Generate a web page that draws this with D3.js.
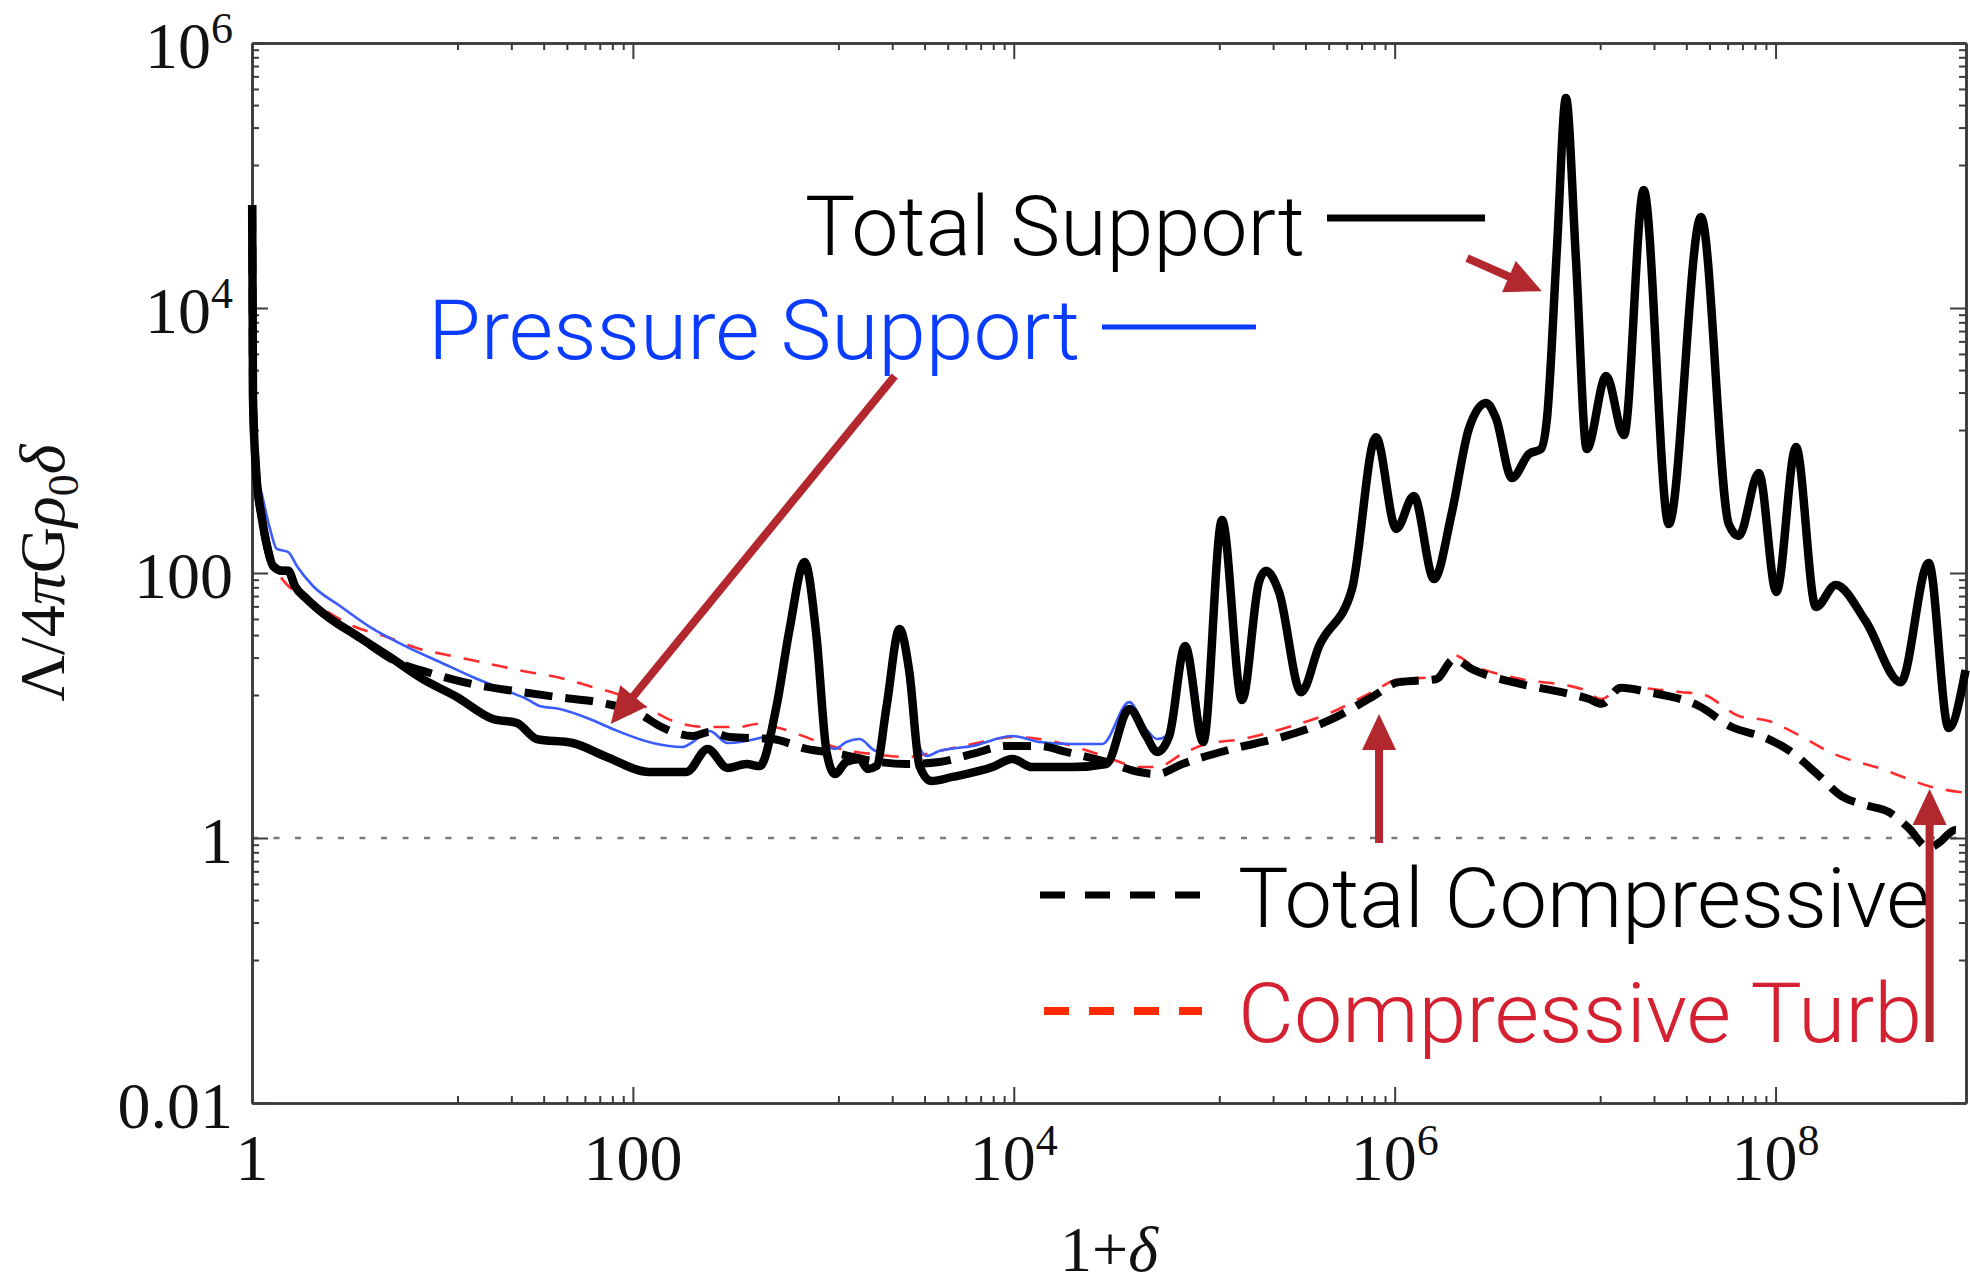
<!DOCTYPE html>
<html lang="en">
<head>
<meta charset="UTF-8">
<title>Support against density</title>
<script src="https://cdn.jsdelivr.net/npm/d3@7"></script>
<style>
  body { margin: 0; background: #fff; }
  svg { display: block; }
  .tick-label { font-family: "Liberation Serif", "Times New Roman", serif; font-size: 66px; fill: #111; }
  .axis-title { font-family: "Liberation Serif", "Times New Roman", serif; font-size: 64px; fill: #111; }
  .legend { font-family: Roboto, "Liberation Sans", sans-serif; font-weight: 300; font-size: 84px; }
</style>
</head>
<body>
<svg width="1970" height="1287"></svg>
<script>
// === values: [1+delta, Lambda/4piG rho0 delta] ===
const totalSupport = [
  [1.002, 6.0e4], [1.0072, 1.17e4], [1.012, 2060], [1.049, 610], [1.128, 256], [1.199, 160],
  [1.29, 113], [1.44, 104], [1.55, 104], [1.68, 79.8], [1.94, 63.7], [2.47, 47.3], [3.56, 33.5],
  [5.30, 23.2], [7.89, 15.8], [11.9, 11.6], [18.4, 7.91], [24.6, 7.38], [31.3, 5.58], [48.3, 5.21],
  [72.9, 4.09], [122, 3.15], [191, 3.15], [247, 4.70], [314, 3.38], [395, 3.62], [463, 3.49],
  [568, 9.91], [665, 37.8], [797, 121], [920, 33.5], [1040, 4.46], [1150, 3.04], [1320, 3.75],
  [1550, 3.95], [1710, 3.32], [1900, 3.49], [2150, 9.91], [2510, 37.8], [2830, 17.9], [3200, 3.49],
  [3700, 2.69], [4760, 2.89], [7730, 3.43], [9840, 3.95], [1.25e4, 3.43], [2.03e4, 3.43],
  [3.06e4, 3.62], [4.04e4, 9.41], [4.96e4, 5.89], [5.66e4, 4.46], [6.55e4, 5.89], [7.94e4, 28.1],
  [9.88e4, 5.30], [1.24e5, 251], [1.58e5, 11.0], [1.94e5, 85.5], [2.11e5, 104], [2.47e5, 71.9],
  [3.23e5, 12.6], [4.01e5, 28.1], [5.97e5, 75.7], [7.98e5, 1060], [1.02e6, 215], [1.26e6, 381],
  [1.61e6, 90.1], [2.00e6, 289], [2.45e6, 1220], [3.02e6, 1920], [3.40e6, 1480], [4.13e6, 521],
  [5.07e6, 791], [5.86e6, 863], [6.31e6, 1480], [7.11e6, 2.79e4], [7.93e6, 3.85e5], [8.95e6, 2.34e4],
  [1.02e7, 863], [1.29e7, 3070], [1.60e7, 1100], [2.03e7, 7.78e4], [2.75e7, 234], [4.06e7, 4.86e4],
  [5.68e7, 234], [6.41e7, 190], [8.17e7, 569], [1.01e8, 71.9], [1.28e8, 893], [1.63e8, 55.4],
  [2.07e8, 81.2], [2.97e8, 43.4], [4.54e8, 15.0], [6.37e8, 119], [8.11e8, 6.76], [9.95e8, 18.5]
];

const pressureSupport = [
  [1.002, 6.0e4], [1.0072, 1.17e4], [1.012, 2060], [1.062, 610], [1.142, 362], [1.243, 215],
  [1.35, 152], [1.55, 144], [1.72, 113], [2.09, 79.8], [2.90, 56.4], [4.32, 37.8], [6.50, 27.7],
  [9.69, 21.3], [14.4, 16.4], [21.8, 12.9], [27.7, 11.2], [32.4, 9.91], [41.3, 9.41], [59.3, 7.91],
  [78.3, 6.65], [127, 5.21], [182, 4.86], [206, 5.30], [253, 6.42], [314, 5.21], [463, 5.69],
  [504, 5.89], [568, 11.2], [665, 37.8], [797, 121], [920, 33.5], [1040, 4.95], [1150, 4.70],
  [1320, 5.30], [1550, 5.58], [1900, 4.54], [2150, 9.91], [2510, 39.8], [2940, 7.91], [3480, 4.16],
  [4070, 4.54], [6070, 4.95], [9840, 5.89], [1.36e4, 5.30], [2.03e4, 5.12], [2.92e4, 5.12],
  [4.04e4, 10.6], [4.96e4, 6.65], [5.66e4, 5.58], [6.32e4, 5.89], [7.94e4, 28.1], [9.88e4, 5.30]
];

const totalCompressive = [
  [1.002, 6.0e4], [1.0072, 1.17e4], [1.012, 2060], [1.049, 610], [1.128, 256], [1.199, 160],
  [1.29, 113], [1.44, 104], [1.55, 104], [1.68, 79.8], [1.94, 63.7], [2.47, 47.3], [3.56, 33.5],
  [5.77, 21.3], [8.28, 17.9], [14.4, 14.5], [26.4, 12.6], [39.8, 11.6], [72.9, 10.3], [109, 8.63],
  [138, 7.00], [176, 6.10], [206, 5.89], [253, 6.31], [322, 5.78], [541, 5.58], [816, 4.70],
  [1220, 4.31], [1810, 3.81], [2730, 3.62], [4070, 3.75], [6070, 4.31], [9140, 4.95], [1.36e4, 4.95],
  [1.89e4, 4.46], [3.06e4, 3.75], [4.56e4, 3.15], [5.66e4, 3.04], [7.67e4, 3.62], [1.40e5, 4.70],
  [2.56e5, 5.78], [4.70e5, 7.91], [7.61e5, 11.6], [1.05e6, 15.0], [1.65e6, 15.8], [2.05e6, 22.4],
  [2.55e6, 18.8], [4.34e6, 14.8], [7.93e6, 12.4], [1.05e7, 11.2], [1.22e7, 10.3], [1.54e7, 13.6],
  [2.16e7, 12.6], [3.96e7, 9.91], [5.89e7, 6.88], [8.89e7, 5.69], [1.17e8, 4.61], [1.63e8, 3.10],
  [2.22e8, 2.07], [2.97e8, 1.77], [3.93e8, 1.57], [5.00e8, 1.19], [6.37e8, 0.841], [7.18e8, 0.917],
  [8.81e8, 1.15], [9.95e8, 1.07]
];

const compressiveTurb = [
  [1.002, 6.0e4], [1.0072, 1.17e4], [1.012, 2060], [1.049, 610], [1.128, 256], [1.199, 160],
  [1.29, 113], [1.40, 94.9], [2.36, 53.5], [3.39, 39.8], [5.11, 32.9], [7.61, 26.7], [11.3, 23.6],
  [17.7, 20.6], [26.4, 18.2], [39.8, 16.4], [59.3, 14.0], [88.4, 11.8], [122, 9.41], [162, 7.64],
  [244, 6.88], [363, 6.88], [446, 7.25], [611, 6.65], [920, 5.40], [1370, 4.54], [1810, 4.31],
  [2730, 4.09], [4070, 4.54], [6070, 5.12], [9840, 5.78], [1.36e4, 5.58], [2.03e4, 4.95],
  [3.06e4, 4.09], [4.56e4, 3.43], [5.66e4, 3.43], [7.67e4, 4.31], [1.02e5, 5.12], [1.58e5, 5.58],
  [2.56e5, 6.65], [4.70e5, 8.93], [7.61e5, 12.6], [1.05e6, 15.8], [1.65e6, 16.4], [2.05e6, 24.0],
  [2.55e6, 20.2], [4.34e6, 16.1], [9.62e6, 13.3], [1.22e7, 11.2], [1.56e7, 13.8], [3.22e7, 12.6],
  [4.10e7, 12.2], [6.41e7, 8.34], [9.20e7, 7.64], [1.32e8, 5.99], [1.97e8, 4.38], [3.61e8, 3.32],
  [6.61e8, 2.43], [9.95e8, 2.19]
];

// ticks: labelled majors every two decades
const xTickValues = [1, 100, 1e4, 1e6, 1e8];
const xTickLabels = [["1"], ["100"], ["10", "4"], ["10", "6"], ["10", "8"]];
const yTickValues = [0.01, 1, 100, 1e4, 1e6];
const yTickLabels = [["0.01"], ["1"], ["100"], ["10", "4"], ["10", "6"]];

// legend texts
const legendLabels = ["Total Support", "Pressure Support", "Total Compressive", "Compressive Turb"];

// red annotation arrows, [from, to] in data units
const arrows = [
  [[2.40e6, 2.38e4], [5.93e6, 1.34e4]],
  [[2370, 3070], [76.5, 7.25]],
  [[8.28e5, 0.917], [8.28e5, 8.63]],
  [[6.44e8, 0.0289], [6.44e8, 2.34]]
];

// === scales ===
const plot = { left: 252, right: 1966, top: 43, bottom: 1103 };
const x = d3.scaleLog().domain([1, 1e9]).range([plot.left, plot.right]);
const y = d3.scaleLog().domain([0.01, 1e6]).range([plot.bottom, plot.top]);
const svg = d3.select("svg");

// minor ticks sit linearly between two majors (a + k(b-a)/9)
function minorTicks(majors, max) {
  const out = [];
  for (let i = 0; i < majors.length; i++) {
    const a = majors[i], b = majors[i + 1] || majors[i] * 100;
    for (let k = 1; k <= 8; k++) {
      const v = a + k * (b - a) / 9;
      if (v < max) out.push(v);
    }
  }
  return out;
}
const xMinor = minorTicks(xTickValues, 1e9);
const yMinor = minorTicks(yTickValues, 1e6);

// reference line at 1
svg.append("line")
  .attr("x1", plot.left).attr("x2", plot.right)
  .attr("y1", y(1)).attr("y2", y(1))
  .attr("stroke", "#7a7a7a").attr("stroke-width", 2.5)
  .attr("stroke-dasharray", "6,15.5");

// === frame with inward ticks on all four sides ===
function drawAxis(axisFn, scale, translate, majors, minors) {
  const gMinor = svg.append("g").attr("transform", translate)
    .call(axisFn(scale).tickValues(minors).tickSizeInner(-7).tickSizeOuter(0).tickFormat(""));
  const gMajor = svg.append("g").attr("transform", translate)
    .call(axisFn(scale).tickValues(majors).tickSizeInner(-16).tickSizeOuter(0).tickFormat(""));
  [gMinor, gMajor].forEach(g => {
    g.select(".domain").attr("stroke", "#3c3c3c").attr("stroke-width", 2.6);
    g.selectAll(".tick line").attr("stroke", "#3c3c3c").attr("stroke-width", 2);
  });
}
drawAxis(d3.axisBottom, x, `translate(0,${plot.bottom})`, xTickValues, xMinor);
drawAxis(d3.axisTop, x, `translate(0,${plot.top})`, xTickValues, xMinor);
drawAxis(d3.axisLeft, y, `translate(${plot.left},0)`, yTickValues, yMinor);
drawAxis(d3.axisRight, y, `translate(${plot.right},0)`, yTickValues, yMinor);

function addLabel(sel, parts) {
  sel.append("tspan").text(parts[0]);
  if (parts[1]) sel.append("tspan").attr("font-size", 44).attr("dy", -25).text(parts[1]);
}
xTickValues.forEach((v, i) => {
  const t = svg.append("text").attr("class", "tick-label")
    .attr("x", x(v)).attr("y", 1180).attr("text-anchor", "middle");
  addLabel(t, xTickLabels[i]);
});
yTickValues.forEach((v, i) => {
  const t = svg.append("text").attr("class", "tick-label")
    .attr("x", 233).attr("y", y(v) + 25).attr("text-anchor", "end");
  addLabel(t, yTickLabels[i]);
});

// axis titles
const xt = svg.append("text").attr("class", "axis-title")
  .attr("x", (plot.left + plot.right) / 2).attr("y", 1271).attr("font-size", 62)
  .attr("text-anchor", "middle");
xt.append("tspan").text("1+");
xt.append("tspan").attr("font-style", "italic").text("δ");

const yt = svg.append("text").attr("class", "axis-title")
  .attr("transform", "translate(64,573) rotate(-90)").attr("text-anchor", "middle");
yt.append("tspan").text("Λ/4");
yt.append("tspan").attr("font-style", "italic").text("π");
yt.append("tspan").text("G");
yt.append("tspan").attr("font-style", "italic").text("ρ");
yt.append("tspan").attr("font-size", 44).attr("dy", 14).text("0");
yt.append("tspan").attr("font-style", "italic").attr("dy", -14).text("δ");

// === curves ===
const line = d3.line().x(d => x(d[0])).y(d => y(d[1])).curve(d3.curveMonotoneX);

svg.append("path").datum(compressiveTurb).attr("d", line)
  .attr("fill", "none").attr("stroke", "#ff2d2d").attr("stroke-width", 2.6)
  .attr("stroke-dasharray", "16,13");
svg.append("path").datum(pressureSupport).attr("d", line)
  .attr("fill", "none").attr("stroke", "#3a5cff").attr("stroke-width", 2.6);
svg.append("path").datum(totalCompressive).attr("d", line)
  .attr("fill", "none").attr("stroke", "#000").attr("stroke-width", 8)
  .attr("stroke-dasharray", "28,13");
svg.append("path").datum(totalSupport).attr("d", line)
  .attr("fill", "none").attr("stroke", "#000").attr("stroke-width", 8.5)
  .attr("stroke-linejoin", "round");

// === legend ===
const legendColors = ["#000", "#0a3cff", "#000", "#d42030"];
const legendText = [
  { x: 805, y: 255, len: 500 },
  { x: 428, y: 359, len: 652 },
  { x: 1238, y: 927, len: 692 },
  { x: 1238, y: 1042, len: 684 }
];
legendLabels.forEach((lab, i) => {
  svg.append("text").attr("class", "legend")
    .attr("x", legendText[i].x).attr("y", legendText[i].y)
    .attr("fill", legendColors[i])
    .attr("textLength", legendText[i].len).attr("lengthAdjust", "spacingAndGlyphs")
    .text(lab);
});
const legendLines = [
  { x1: 1327, x2: 1485, y: 218, w: 7, c: "#000", dash: null },
  { x1: 1102, x2: 1256, y: 327, w: 5, c: "#0a3cff", dash: null },
  { x1: 1040, x2: 1200, y: 895, w: 7, c: "#000", dash: "25,20" },
  { x1: 1044, x2: 1202, y: 1011, w: 8, c: "#ff2a00", dash: "25,20" }
];
legendLines.forEach(l => {
  svg.append("line").attr("x1", l.x1).attr("x2", l.x2).attr("y1", l.y).attr("y2", l.y)
    .attr("stroke", l.c).attr("stroke-width", l.w)
    .attr("stroke-dasharray", l.dash);
});

// === arrows ===
const arrowColor = "#b3282e";
arrows.forEach(([from, to]) => {
  const x0 = x(from[0]), y0 = y(from[1]), x1 = x(to[0]), y1 = y(to[1]);
  const len = Math.hypot(x1 - x0, y1 - y0), ux = (x1 - x0) / len, uy = (y1 - y0) / len;
  const head = 36, half = 17;
  const bx = x1 - ux * head, by = y1 - uy * head;
  svg.append("line").attr("x1", x0).attr("y1", y0).attr("x2", bx + ux * 4).attr("y2", by + uy * 4)
    .attr("stroke", arrowColor).attr("stroke-width", 8);
  svg.append("polygon")
    .attr("points", [[x1, y1], [bx - uy * half, by + ux * half], [bx + uy * half, by - ux * half]].join(" "))
    .attr("fill", arrowColor);
});
</script>
</body>
</html>
